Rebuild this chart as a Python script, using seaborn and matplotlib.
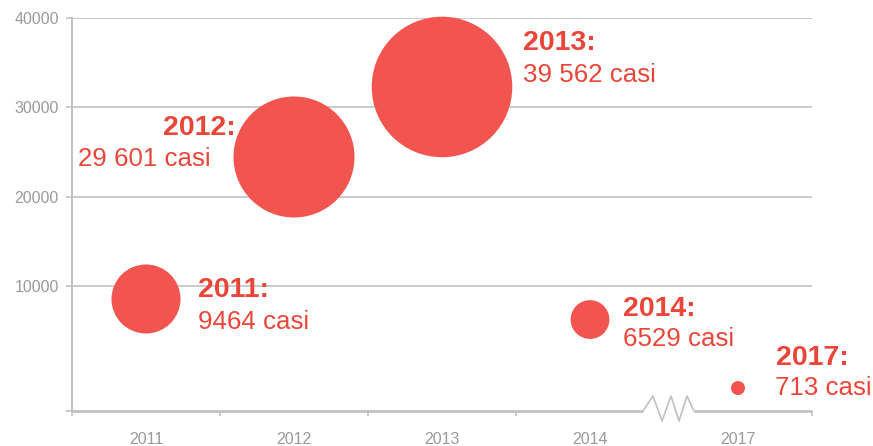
import pandas as pd
import seaborn as sns
import matplotlib.pyplot as plt

# Data
years = ["2011", "2012", "2013", "2014", "2017"]
cases = [9464, 29601, 39562, 6529, 713]
bubble_y = [8540, 24440, 32280, 6240, -1430]       # where the bubbles sit on the y scale
bubble_size = [9500, 29200, 39400, 3000, 390]      # bubble area value as drawn
y_ticks = [10000, 20000, 30000, 40000]

# label offsets (points) from each bubble: (bold year, case count)
label_offsets = [((37.4, 1.4), (37.4, -21.6)),
                 ((-94.3, 15.8), (-155.5, -6.5)),
                 ((58.3, 26.6), (58.3, 3.6)),
                 ((23.8, 2.5), (23.8, -19.1)),
                 ((27.4, 16.6), (26.6, -5.0))]

RED_BUBBLE = "#f2554f"
RED_TEXT = "#ea4539"
GRAY = "#bec2c2"
GRAY_TXT = "#9a9a9a"

sns.set_style("white")
plt.rcParams["font.family"] = ["Liberation Sans", "DejaVu Sans"]

df = pd.DataFrame({"year": years, "y": bubble_y, "size": bubble_size})

fig = plt.figure(figsize=(8.73, 4.46), dpi=100)
ax = fig.add_axes([72 / 873, 35 / 446, 740 / 873, 393 / 446])

k = 0.26  # points^2 per unit of bubble_size
sns.scatterplot(data=df, x="year", y="y", size="size", sizes=(0, 40000 * k),
                size_norm=(0, 40000), color=RED_BUBBLE, linewidth=0,
                legend=False, ax=ax, zorder=3, clip_on=False)

ax.set_xlim(-0.5, len(years) - 0.5)
ax.set_ylim(-4000, 40000)

# grid lines for the y ticks
for v in y_ticks:
    ax.axhline(v, color=GRAY, lw=1.2, zorder=1)

ax.set_yticks([-4000] + y_ticks)
ax.set_yticklabels([""] + [str(v) for v in y_ticks])
ax.tick_params(axis="y", length=4.5, width=1.2, color=GRAY, pad=5,
               labelsize=11.5, labelcolor=GRAY_TXT, left=True)

ax.set_xticks(range(len(years)))
ax.set_xticklabels(years)
ax.set_xticks([-0.5, 0.5, 1.5, 2.5, 4.5], minor=True)
ax.tick_params(axis="x", which="major", length=0, pad=15,
               labelsize=11.5, labelcolor=GRAY_TXT)
ax.tick_params(axis="x", which="minor", length=3.5, width=1.2, color=GRAY,
               bottom=True)
ax.set_xlabel("")
ax.set_ylabel("")

for s in ["top", "right", "bottom"]:
    ax.spines[s].set_visible(False)
ax.spines["left"].set_color(GRAY)
ax.spines["left"].set_linewidth(1.4)

# bottom axis with a zigzag break between 2014 and 2017
zx = [0.7716, 0.7851, 0.7973, 0.8095, 0.8203, 0.8311, 0.8405]
zy = [0, 0.0382, -0.0254, 0.0382, -0.0254, 0.0382, 0]
ax.plot([0, zx[0]], [0, 0], transform=ax.transAxes, color=GRAY, lw=2.0,
        clip_on=False, solid_capstyle="butt")
ax.plot([zx[-1], 1], [0, 0], transform=ax.transAxes, color=GRAY, lw=2.0,
        clip_on=False, solid_capstyle="butt")
ax.plot(zx, zy, transform=ax.transAxes, color=GRAY, lw=1.2, clip_on=False)


def fmt_cases(v):
    return f"{v:,}".replace(",", " ") if v >= 10000 else str(v)


for i, (yr, c, yv) in enumerate(zip(years, cases, bubble_y)):
    off_year, off_case = label_offsets[i]
    ax.annotate(f"{yr}:", xy=(i, yv), xytext=off_year, textcoords="offset points",
                ha="left", va="baseline", fontsize=20.5, fontweight="bold",
                color=RED_TEXT, zorder=4, annotation_clip=False)
    ax.annotate(f"{fmt_cases(c)} casi", xy=(i, yv), xytext=off_case,
                textcoords="offset points", ha="left", va="baseline",
                fontsize=18.6, color=RED_TEXT, zorder=4, annotation_clip=False)

plt.savefig("out.png", dpi=100)
plt.close()
